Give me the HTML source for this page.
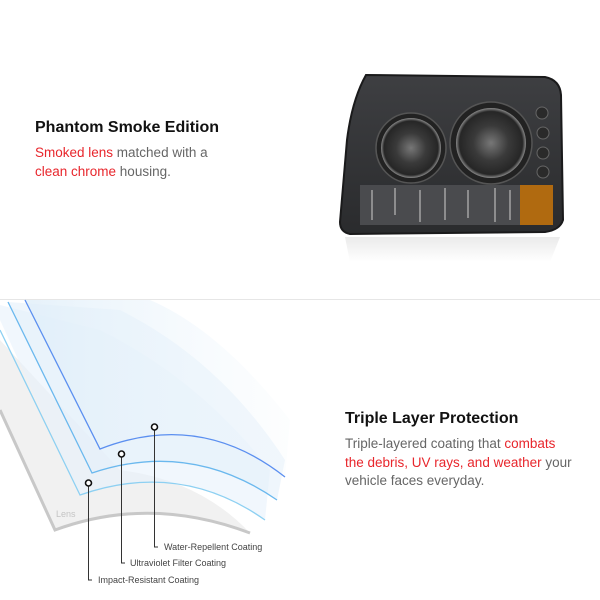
<!DOCTYPE html>
<html><head><meta charset="utf-8"><style>
html,body{margin:0;padding:0;background:#fff;}
body{width:600px;height:600px;position:relative;overflow:hidden;font-family:"Liberation Sans",Arial,sans-serif;}
.t{position:absolute;font-weight:bold;color:#111;font-size:16px;white-space:nowrap;}
.b{position:absolute;color:#666;font-size:13.5px;line-height:18.5px;white-space:nowrap;}
.r{color:#e8262c;}
</style></head><body>
<svg width="600" height="600" style="position:absolute;left:0;top:0">
<defs>
<linearGradient id="hb" x1="0" y1="0" x2="0" y2="1"><stop offset="0" stop-color="#3e3f42"/><stop offset="1" stop-color="#2a2b2d"/></linearGradient>
<linearGradient id="gl" x1="0" y1="0" x2="1" y2="0"><stop offset="0" stop-color="#dfeef9"/><stop offset="1" stop-color="#f4f9fd" stop-opacity="0.3"/></linearGradient>
<radialGradient id="ln" cx="0.5" cy="0.5" r="0.5"><stop offset="0" stop-color="#777"/><stop offset="0.5" stop-color="#3a3a3a"/><stop offset="0.9" stop-color="#262626"/><stop offset="1" stop-color="#888"/></radialGradient>
<linearGradient id="rf" x1="0" y1="0" x2="0" y2="1"><stop offset="0" stop-color="#ddd"/><stop offset="1" stop-color="#fff"/></linearGradient>
</defs>
<path d="M345 237 L560 237 L550 262 L350 262 Z" fill="url(#rf)" opacity="0.6"/>
<path d="M366 75 L545 77 Q560 80 561 95 L563 220 Q560 230 545 232 L350 234 Q340 232 340 222 L347 140 Q352 100 366 75 Z" fill="url(#hb)" stroke="#1a1a1b" stroke-width="2"/>
<circle cx="411" cy="148" r="35" fill="#222" stroke="#555" stroke-width="1.5"/>
<circle cx="411" cy="148" r="30" fill="url(#ln)"/>
<circle cx="491" cy="143" r="41" fill="#222" stroke="#555" stroke-width="1.5"/>
<circle cx="491" cy="143" r="35" fill="url(#ln)"/>
<circle cx="542" cy="113" r="6" fill="#2a2a2a" stroke="#666"/>
<circle cx="543" cy="133" r="6" fill="#2a2a2a" stroke="#666"/>
<circle cx="543" cy="153" r="6" fill="#2a2a2a" stroke="#666"/>
<circle cx="543" cy="172" r="6" fill="#2a2a2a" stroke="#666"/>
<rect x="360" y="185" width="160" height="40" fill="#4a4b4e"/>
<g stroke="#aaa" stroke-width="2" opacity="0.7">
<line x1="372" y1="190" x2="372" y2="220"/><line x1="395" y1="188" x2="395" y2="215"/><line x1="420" y1="190" x2="420" y2="222"/><line x1="445" y1="188" x2="445" y2="220"/><line x1="468" y1="190" x2="468" y2="218"/><line x1="495" y1="188" x2="495" y2="222"/><line x1="510" y1="190" x2="510" y2="220"/>
</g>
<rect x="520" y="185" width="33" height="40" fill="#b06a10"/>
<line x1="0" y1="299.5" x2="600" y2="299.5" stroke="#e6e6e6"/>
<path d="M0 340 L0 410 L55 530 Q150 495 250 533 Q200 480 120 470 Z" fill="#f1f1f1"/>
<path d="M0 410 L55 530 Q150 495 250 533" fill="none" stroke="#c8c8c8" stroke-width="3"/>
<path d="M0 305 L0 320 L80 495 Q180 460 265 520 L270 470 Q200 380 100 330 Z" fill="#e7f2fb" opacity="0.6"/>
<path d="M8 302 L92 473 Q190 440 277 500 L285 460 Q220 360 120 310 Z" fill="#e4f0fa" opacity="0.6"/>
<path d="M25 300 L100 449 Q200 410 285 477 L290 420 Q220 330 150 300 Z" fill="url(#gl)" opacity="0.8"/>
<path d="M0 330 L80 495 Q180 460 265 520" fill="none" stroke="#8dd0f2" stroke-width="1.3"/>
<path d="M8 302 L92 473 Q190 440 277 500" fill="none" stroke="#6ab8ee" stroke-width="1.3"/>
<path d="M25 300 L100 449 Q200 410 285 477" fill="none" stroke="#5b8ff0" stroke-width="1.3"/>
<g stroke="#333" stroke-width="1" fill="none">
<polyline points="154.5,430 154.5,547 158,547"/>
<polyline points="121.5,457 121.5,563 125,563"/>
<polyline points="88.5,486 88.5,580 92,580"/>
</g>
<g fill="#fff" stroke="#111" stroke-width="1.6">
<circle cx="154.5" cy="427" r="3"/><circle cx="121.5" cy="454" r="3"/><circle cx="88.5" cy="483" r="3"/>
</g>
<g font-family="Liberation Sans, Arial, sans-serif" font-size="9" fill="#444">
<text x="164" y="550">Water-Repellent Coating</text>
<text x="130" y="566">Ultraviolet Filter Coating</text>
<text x="98" y="583">Impact-Resistant Coating</text>
<text x="56" y="517" fill="#c4c4c4">Lens</text>
</g>
</svg>
<div class="t" style="left:35px;top:119px;">Phantom Smoke Edition</div>
<div class="b" style="left:35px;top:144px;"><span class="r">Smoked lens</span> matched with a<br><span class="r">clean chrome</span> housing.</div>
<div class="t" style="left:345px;top:410px;">Triple Layer Protection</div>
<div class="b" style="left:345px;top:435px;">Triple-layered coating that <span class="r">combats</span><br><span class="r">the debris, UV rays, and weather</span> your<br>vehicle faces everyday.</div>
</body></html>
